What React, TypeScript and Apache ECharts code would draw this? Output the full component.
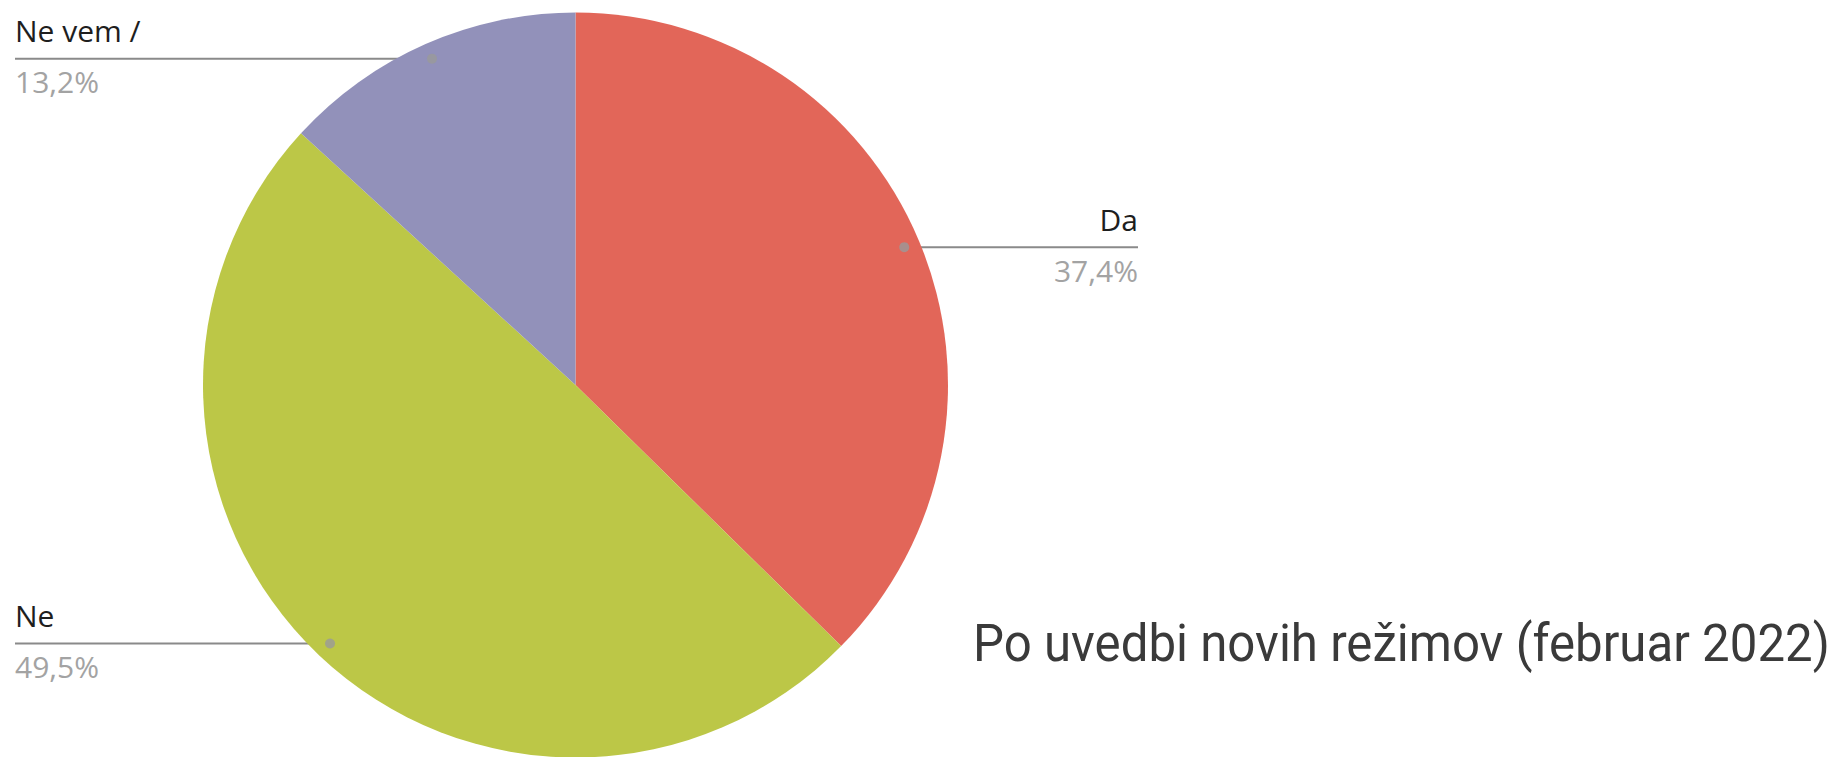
import React, { useEffect, useRef } from "react";
import * as echarts from "echarts";

const categories = ["Da", "Ne", "Ne vem /"];
const values = [37.4, 49.5, 13.2];
const pctLabels = ["37,4%", "49,5%", "13,2%"];
const colors = ["#E26659", "#BCC747", "#9291BA"];
const titleText = "Po uvedbi novih režimov (februar 2022)";

const CX = 575.5;
const CY = 385;
const R = 372.5;
const DOT_K = 0.957;

const total = values.reduce((a, b) => a + b, 0);
const midValues = values.map((v, i) => values.slice(0, i).reduce((a, b) => a + b, 0) + v / 2);

function dotPoint(i: number): [number, number] {
  const a = (midValues[i] / total) * Math.PI * 2;
  return [CX + DOT_K * R * Math.sin(a), CY - DOT_K * R * Math.cos(a)];
}

export default function App() {
  const ref = useRef<HTMLDivElement>(null);
  useEffect(() => {
    if (!ref.current) return;
    const chart = echarts.init(ref.current, undefined, { renderer: "svg" });
    chart.setOption({
      animation: false,
      backgroundColor: "#ffffff",
      polar: { center: [CX, CY], radius: R },
      angleAxis: { type: "value", min: 0, max: total, startAngle: 90, clockwise: true, show: false },
      radiusAxis: { type: "value", min: 0, max: 1, show: false },
      graphic: [
        {
          type: "text",
          x: 973,
          y: 643,
          scaleX: 0.946,
          style: {
            text: titleText,
            fill: "#3a3a3a",
            font: "52px Roboto",
            textAlign: "left",
            textVerticalAlign: "middle",
          },
        },
      ],
      series: [
        {
          type: "pie",
          center: [CX, CY],
          radius: R,
          startAngle: 90,
          clockwise: true,
          avoidLabelOverlap: false,
          silent: true,
          itemStyle: { borderWidth: 0 },
          data: categories.map((c, i) => ({ name: c, value: values[i], itemStyle: { color: colors[i] } })),
          label: {
            show: true,
            position: "outside",
            formatter: (p: any) => `{n|${p.name}}\n{p|${pctLabels[p.dataIndex]}}`,
            rich: {
              n: { fontSize: 30, fontFamily: "Open Sans", color: "#1e1e1e", lineHeight: 56, verticalAlign: "middle" },
              p: { fontSize: 30, fontFamily: "Open Sans", color: "#a3a3a3", lineHeight: 46, verticalAlign: "middle" },
            },
          },
          labelLine: { show: true, lineStyle: { color: "#8a8a8a", width: 2 } },
          labelLayout: (params: any) => {
            const i = params.dataIndex;
            const [px, py] = dotPoint(i);
            const right = px > CX;
            const endX = right ? 1138 : 15;
            return {
              x: endX,
              y: py - 56,
              align: right ? "right" : "left",
              verticalAlign: "top",
              labelLinePoints: [
                [px, py],
                [(px + endX) / 2, py],
                [endX, py],
              ],
            };
          },
        },
        {
          type: "scatter",
          coordinateSystem: "polar",
          symbol: "circle",
          symbolSize: 10,
          silent: true,
          z: 5,
          itemStyle: { color: "#9a9a9a" },
          data: midValues.map((m) => [DOT_K, m]),
        },
      ],
    });
    return () => chart.dispose();
  }, []);
  return <div ref={ref} style={{ position: "absolute", left: 0, top: 0, width: 1832, height: 757 }} />;
}
